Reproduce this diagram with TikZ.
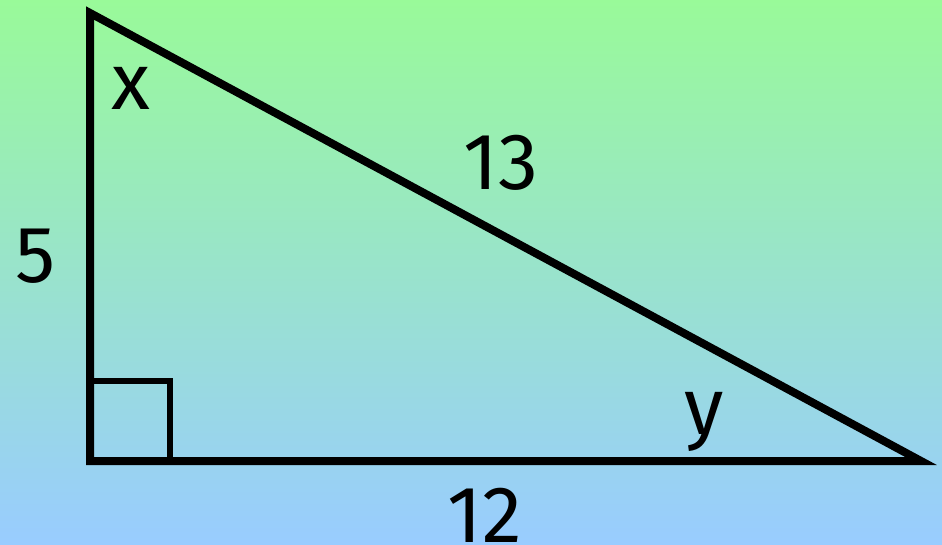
\documentclass[tikz,border=0pt]{standalone}
\usepackage{fontspec}
\setmainfont{Fira Sans}
\definecolor{topgreen}{RGB}{153,250,153}
\definecolor{botblue}{RGB}{153,204,255}
\begin{document}
\begin{tikzpicture}[x=1pt,y=-1pt,
  lbl/.style={inner sep=0pt,anchor=base,font=\fontsize{80}{80}\selectfont},
  thick line/.style={line width=8pt,line join=miter},
  sq line/.style={line width=6pt,line join=miter}]
\shade[top color=topgreen,bottom color=botblue] (0,0) rectangle (942,545);
\useasboundingbox (0,0) rectangle (942,545);
\coordinate (A) at (90,13);
\coordinate (B) at (90,461);
\coordinate (C) at (921,461);
\coordinate (S1) at (90,381);
\coordinate (S2) at (170,381);
\coordinate (S3) at (170,461);
\draw[sq line] (S1) -- (S2) -- (S3);
\draw[thick line] (A) -- (B) -- (C) -- cycle;
\node[lbl] (x) at (131,110) {x};
\node[lbl] (h) at (501,190) {13};
\node[lbl] (a) at (36,283) {5};
\node[lbl] (y) at (704,434) {y};
\node[lbl] (b) at (485,542) {12};
\end{tikzpicture}
\end{document}
